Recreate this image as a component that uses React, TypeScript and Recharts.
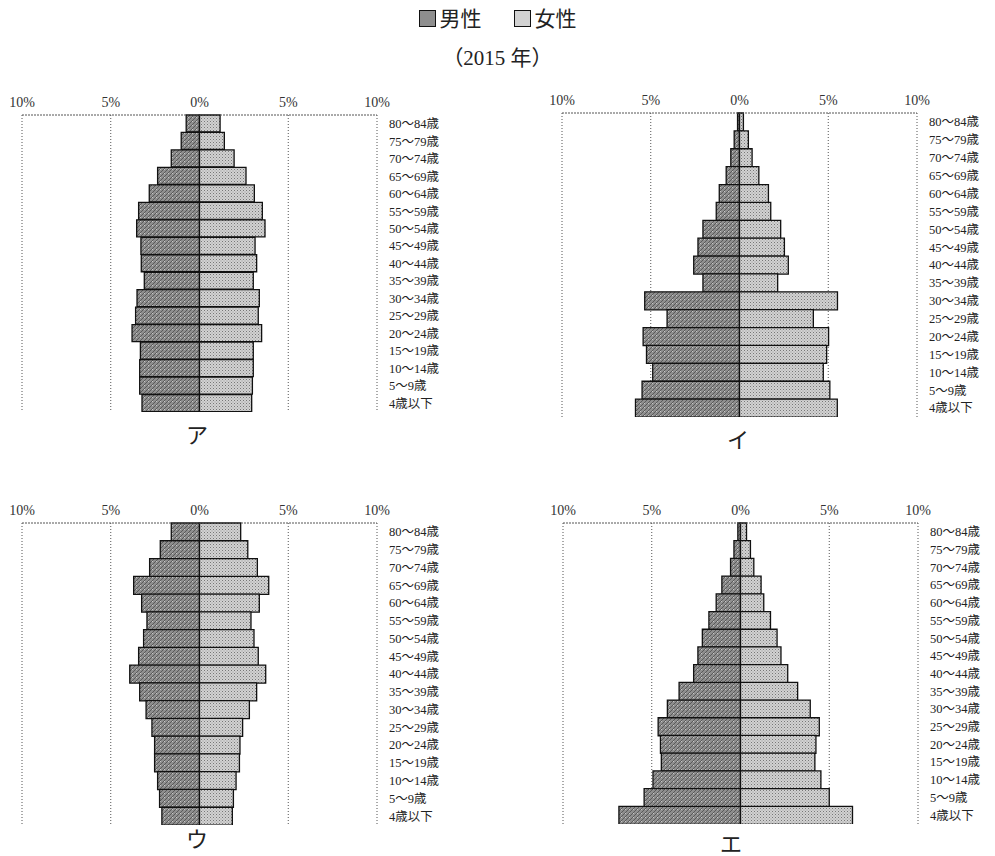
import React from 'react'
import { BarChart, Bar, XAxis, YAxis, CartesianGrid } from 'recharts'

const ageGroups = [
  '80～84歳', '75～79歳', '70～74歳', '65～69歳', '60～64歳', '55～59歳',
  '50～54歳', '45～49歳', '40～44歳', '35～39歳', '30～34歳', '25～29歳',
  '20～24歳', '15～19歳', '10～14歳', '5～9歳', '4歳以下',
]

// percent of total population, male / female, top row = 80～84
const maleA   = [0.75, 1.03, 1.59, 2.36, 2.83, 3.43, 3.54, 3.30, 3.28, 3.11, 3.52, 3.60, 3.80, 3.33, 3.37, 3.37, 3.24]
const femaleA = [1.16, 1.40, 1.95, 2.62, 3.09, 3.54, 3.69, 3.13, 3.22, 3.03, 3.37, 3.31, 3.50, 3.03, 3.03, 2.98, 2.94]

const maleI   = [0.11, 0.30, 0.49, 0.75, 1.14, 1.31, 2.06, 2.34, 2.58, 2.06, 5.34, 4.08, 5.43, 5.24, 4.89, 5.49, 5.86]
const femaleI = [0.22, 0.50, 0.71, 1.09, 1.63, 1.76, 2.32, 2.53, 2.75, 2.15, 5.52, 4.16, 5.02, 4.91, 4.72, 5.09, 5.51]

const maleU   = [1.59, 2.21, 2.81, 3.71, 3.26, 2.96, 3.15, 3.43, 3.93, 3.37, 3.01, 2.68, 2.53, 2.53, 2.36, 2.25, 2.12]
const femaleU = [2.32, 2.72, 3.26, 3.90, 3.37, 2.90, 3.07, 3.31, 3.73, 3.22, 2.81, 2.43, 2.28, 2.25, 2.06, 1.91, 1.85]

const maleE   = [0.15, 0.37, 0.56, 1.05, 1.37, 1.78, 2.15, 2.40, 2.64, 3.46, 4.12, 4.64, 4.51, 4.46, 4.93, 5.43, 6.85]
const femaleE = [0.34, 0.56, 0.75, 1.16, 1.31, 1.69, 2.06, 2.28, 2.66, 3.22, 3.93, 4.44, 4.25, 4.19, 4.53, 5.00, 6.31]

const xTicks = [-10, -5, 0, 5, 10]

const FONT = '"Liberation Serif", "DejaVu Serif", "Noto Sans CJK JP", serif'

function buildRows(male: number[], female: number[]) {
  return ageGroups.map((age, i) => ({ age, male: -male[i], female: female[i] }))
}

interface PyramidProps {
  male:   number[]
  female: number[]
  left:   number
  top:    number
  plotH:  number
  letter: string
  letterX: number
  letterY: number
}

function Pyramid({ male, female, left, top, plotH, letter, letterX, letterY }: PyramidProps) {
  const data = buildRows(male, female)
  return (
    <>
      <div style={{ position: 'absolute', left, top }}>
        <BarChart
          width={480}
          height={30 + plotH}
          data={data}
          layout="vertical"
          stackOffset="sign"
          barCategoryGap={0}
          margin={{ top: 0, right: 0, bottom: 0, left: 22 }}
        >
          <CartesianGrid horizontal={false} stroke="#555" strokeDasharray="1 2" />
          <XAxis
            type="number"
            orientation="top"
            domain={[-10, 10]}
            ticks={xTicks}
            height={30}
            tickLine={false}
            axisLine={{ stroke: '#555', strokeDasharray: '2 1' }}
            tick={{ fontSize: 14, fill: '#333', fontFamily: FONT }}
            tickFormatter={v => `${Math.abs(v)}%`}
          />
          <YAxis
            type="category"
            dataKey="age"
            orientation="right"
            width={103}
            interval={0}
            tickLine={false}
            axisLine={false}
            tickMargin={6}
            tick={{ fontSize: 12.5, fill: '#222', fontFamily: FONT }}
          />
          <Bar dataKey="male" stackId="p" fill="url(#malePat)" stroke="#111" strokeWidth={1.3} isAnimationActive={false} />
          <Bar dataKey="female" stackId="p" fill="url(#femalePat)" stroke="#111" strokeWidth={1.3} isAnimationActive={false} />
        </BarChart>
      </div>
      <div
        style={{
          position: 'absolute', left: letterX - 15, top: letterY - 14, width: 30,
          textAlign: 'center', fontSize: 22, fontFamily: FONT, color: '#222', lineHeight: '28px',
        }}
      >
        {letter}
      </div>
    </>
  )
}

export default function App() {
  return (
    <div style={{ position: 'absolute', left: 0, top: 0, width: 995, height: 856, background: '#fff', fontFamily: FONT }}>
      <svg width={0} height={0} style={{ position: 'absolute' }}>
        <defs>
          <pattern id="malePat" width={4} height={4} patternUnits="userSpaceOnUse">
            <rect width={4} height={4} fill="#8e8e8e" />
            <path d="M0 4 L4 0" stroke="#5a5a5a" strokeWidth={1} />
            <rect x={0} y={0} width={1} height={1} fill="#c8c8c8" />
          </pattern>
          <pattern id="femalePat" width={3} height={3} patternUnits="userSpaceOnUse">
            <rect width={3} height={3} fill="#d2d2d2" />
            <rect x={0} y={0} width={1} height={1} fill="#777" />
            <rect x={1.5} y={1.5} width={1} height={1} fill="#999" />
          </pattern>
        </defs>
      </svg>

      {/* legend */}
      <div style={{ position: 'absolute', left: 0, top: 6, width: 995, textAlign: 'center', fontSize: 21, color: '#222', lineHeight: '26px' }}>
        <span style={{ display: 'inline-block', width: 15, height: 15, border: '1.5px solid #111', background: 'url(#malePat)', backgroundColor: '#8e8e8e', verticalAlign: -1, marginRight: 4 }} />
        男性
        <span style={{ display: 'inline-block', width: 32 }} />
        <span style={{ display: 'inline-block', width: 15, height: 15, border: '1.5px solid #111', backgroundColor: '#d2d2d2', verticalAlign: -1, marginRight: 4 }} />
        女性
      </div>
      <div style={{ position: 'absolute', left: 0, top: 45, width: 995, textAlign: 'center', fontSize: 21, color: '#222', lineHeight: '26px' }}>
        （2015 年）
      </div>

      <Pyramid male={maleA} female={femaleA} left={0}   top={85}  plotH={297} letter="ア" letterX={197} letterY={436} />
      <Pyramid male={maleI} female={femaleI} left={540} top={83}  plotH={304} letter="イ" letterX={738} letterY={441} />
      <Pyramid male={maleU} female={femaleU} left={0}   top={493} plotH={302} letter="ウ" letterX={197} letterY={840} />
      <Pyramid male={maleE} female={femaleE} left={541} top={493} plotH={301} letter="エ" letterX={731} letterY={845} />
    </div>
  )
}
